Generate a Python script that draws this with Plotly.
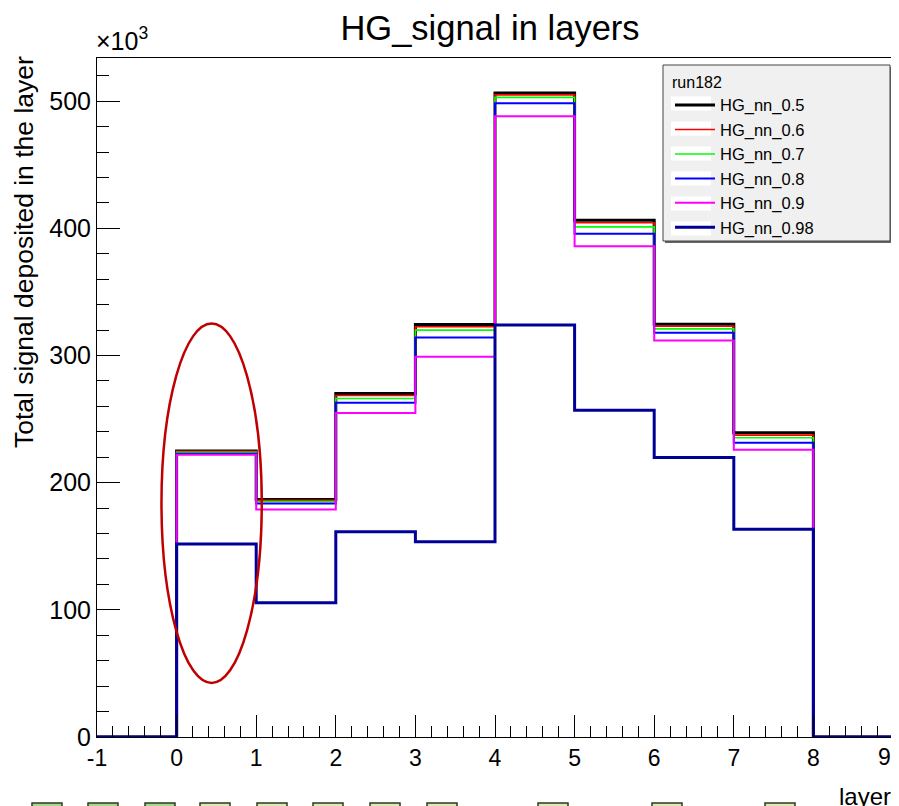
import plotly.graph_objects as go

# bin edges of the "layer" histogram and the per-bin sums, in units of 10^3
edges = [-1, 0, 1, 2, 3, 4, 5, 6, 7, 8, 9]
names = ["HG_nn_0.5", "HG_nn_0.6", "HG_nn_0.7", "HG_nn_0.8", "HG_nn_0.9", "HG_nn_0.98"]
hg_05 = [225.0, 186.7, 270.2, 324.4, 506.5, 406.4, 324.7, 239.2]
hg_06 = [224.6, 186.2, 268.6, 322.6, 505.0, 404.4, 323.0, 237.4]
hg_07 = [224.0, 185.2, 266.2, 320.0, 503.0, 401.2, 321.0, 235.3]
hg_08 = [222.8, 183.7, 262.8, 314.2, 498.4, 395.7, 318.0, 231.4]
hg_09 = [222.0, 178.9, 254.9, 299.0, 488.2, 386.0, 311.9, 225.9]
hg_098 = [151.7, 105.6, 161.4, 153.5, 324.0, 257.0, 219.9, 163.3]
x_ticks = [-1, 0, 1, 2, 3, 4, 5, 6, 7, 8, 9]
# the last label is drawn right-aligned to the frame instead (as ROOT does)
x_ticktext = ["-1", "0", "1", "2", "3", "4", "5", "6", "7", "8", ""]

series = [hg_05, hg_06, hg_07, hg_08, hg_09, hg_098]
colors = ["#000000", "#ff0000", "#00ff00", "#0000ff", "#ff00ff", "#000099"]
widths = [3, 1.6, 1.6, 2, 2, 3]

FONT = "Liberation Sans, Arial, sans-serif"
W, H = 899, 806
OFF = 8  # the page body adds an 8px margin around the figure
# plot frame in page pixels
FX0, FX1, FY0, FY1 = 97, 893, 58, 737


def px_x(p):
    return (p - FX0) / (FX1 - FX0)


def px_y(p):
    return (FY1 - p) / (FY1 - FY0)


fig = go.Figure()
for i, (name, vals) in enumerate(zip(names, series)):
    # underflow bin (-1..0) and overflow bin (8..9) are empty
    y = [0] + vals + [0, 0]
    fig.add_trace(
        go.Scatter(
            x=edges, y=y, mode="lines", name=name,
            line={"color": colors[i], "width": widths[i], "shape": "hv"},
            legendgroup=name,
        )
    )

shapes = [
    # legend box (with a thin shadow on the right/bottom)
    dict(type="rect", xref="paper", yref="paper",
         x0=px_x(665), x1=px_x(892), y0=px_y(243), y1=px_y(67),
         fillcolor="#666666", line={"width": 0}, layer="above"),
    dict(type="rect", xref="paper", yref="paper",
         x0=px_x(663), x1=px_x(890), y0=px_y(241), y1=px_y(65),
         fillcolor="#f0f0f0", line={"color": "#444444", "width": 1}, layer="above"),
    # highlight around layer 0
    dict(type="circle", xref="x", yref="y", x0=-0.19, x1=1.07, y0=42.5, y1=325.2,
         line={"color": "#c00000", "width": 2.5}),
]
# white boxes behind the legend line samples
for k in range(len(names)):
    cy = 103.5 + k * 25
    shapes.append(dict(type="rect", xref="paper", yref="paper",
                       x0=px_x(671), x1=px_x(711), y0=px_y(cy + 7), y1=px_y(cy - 7),
                       fillcolor="white", line={"width": 0}, layer="above"))
# toolbar squares peeking in at the bottom edge
for k, sx in enumerate([32, 88, 145, 200, 257, 313, 370, 427, 538, 652, 765]):
    shapes.append(dict(type="rect", xref="paper", yref="paper",
                       x0=px_x(sx), x1=px_x(sx + 30), y0=px_y(832), y1=px_y(803),
                       fillcolor="#a8d88a" if k < 3 else "#dfe9b4",
                       line={"color": "#2b3a22", "width": 1.5}, layer="above"))

fig.update_layout(
    width=W, height=H,
    margin={"l": FX0 - OFF, "r": W - (FX1 - OFF), "t": FY0 - OFF, "b": H - (FY1 - OFF)},
    paper_bgcolor="white", plot_bgcolor="white",
    font={"family": FONT, "color": "black"},
    title={"text": "HG_signal in layers", "x": (490 - OFF) / W, "xref": "container",
           "xanchor": "center", "y": 1 - (28 - OFF) / H, "yanchor": "middle",
           "font": {"size": 34.5}},
    showlegend=True,
    legend={"x": px_x(670), "y": px_y(67), "xanchor": "left", "yanchor": "top",
            "bgcolor": "rgba(0,0,0,0)", "borderwidth": 0, "itemwidth": 40,
            "font": {"size": 16.5}, "tracegroupgap": 0,
            "title": {"text": "run182", "font": {"size": 16}}},
    shapes=shapes,
    annotations=[
        dict(text="Total signal deposited in the layer", textangle=-90,
             xref="paper", yref="paper", x=px_x(24), y=px_y(54),
             xanchor="center", yanchor="top", showarrow=False,
             font={"size": 26.5}),
        dict(text="layer", xref="paper", yref="paper", x=1, y=px_y(797),
             xanchor="right", yanchor="middle", showarrow=False,
             font={"size": 24}),
        dict(text="×10<sup>3</sup>", xref="paper", yref="paper", x=px_x(94), y=px_y(57),
             xanchor="left", yanchor="bottom", showarrow=False,
             font={"size": 25}),
        dict(text=str(x_ticks[-1]), xref="x", yref="paper", x=x_ticks[-1], y=px_y(757),
             xanchor="right", yanchor="middle", showarrow=False,
             font={"size": 23}),
    ],
)
fig.update_xaxes(
    range=[-1, 9], tickmode="array", tickvals=x_ticks, ticktext=x_ticktext,
    ticks="inside", ticklen=22, tickcolor="black",
    showline=True, linecolor="black", linewidth=1, mirror=True,
    showgrid=False, zeroline=False, tickfont={"size": 23},
    minor={"dtick": 0.2, "tick0": 0, "ticks": "inside", "ticklen": 11, "tickcolor": "black"},
)
fig.update_yaxes(
    range=[0, 534], dtick=100, tick0=0, ticks="inside", ticklen=23, tickcolor="black",
    showline=True, linecolor="black", linewidth=1, mirror=True,
    showgrid=False, zeroline=False, tickfont={"size": 25},
    minor={"dtick": 20, "tick0": 0, "ticks": "inside", "ticklen": 12, "tickcolor": "black"},
)

fig.write_html("out.html")
